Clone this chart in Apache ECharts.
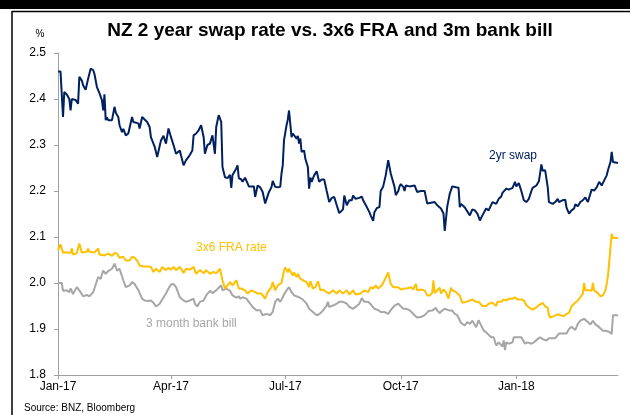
<!DOCTYPE html>
<html>
<head>
<meta charset="utf-8">
<script src="https://cdn.jsdelivr.net/npm/echarts@6/dist/echarts.min.js"></script>
<style>
html,body{margin:0;padding:0;background:#fff;}
#chart{width:630px;height:415px;}
</style>
</head>
<body>
<div id="chart"></div>
<script>
// x values are days since 1 Jan 2017
const tickDays = [0, 90, 181, 273, 365];
const tickLabels = ['Jan-17', 'Apr-17', 'Jul-17', 'Oct-17', 'Jan-18'];
const lastDay = 446;

const swap2yr = [
[0,2.46],[2,2.46],[4,2.361],[5,2.415],[7,2.41],[9,2.40],[10,2.375],[11,2.40],[14,2.398],[16,2.39],
[17,2.448],[19,2.44],[20,2.43],[22,2.42],[24,2.444],[26,2.466],[28,2.463],[29,2.455],[31,2.426],[33,2.413],
[35,2.397],[36,2.375],[37,2.41],[38,2.354],[39,2.36],[40,2.354],[43,2.354],[45,2.383],[46,2.37],[48,2.361],
[49,2.343],[51,2.328],[52,2.335],[54,2.321],[56,2.325],[59,2.361],[60,2.35],[64,2.347],[65,2.336],[67,2.361],
[68,2.357],[71,2.35],[73,2.339],[74,2.317],[77,2.296],[79,2.274],[82,2.31],[84,2.32],[86,2.303],[87,2.32],
[88,2.336],[90,2.317],[92,2.30],[94,2.281],[97,2.288],[98,2.277],[100,2.256],[102,2.267],[104,2.274],[107,2.288],
[108,2.321],[110,2.325],[112,2.332],[114,2.343],[116,2.317],[117,2.281],[119,2.30],[121,2.303],[123,2.321],[125,2.281],
[126,2.339],[128,2.365],[130,2.35],[131,2.252],[133,2.23],[135,2.228],[137,2.235],[138,2.207],[139,2.235],[142,2.249],
[143,2.256],[144,2.228],[145,2.227],[146,2.225],[147,2.22],[149,2.229],[150,2.227],[152,2.21],[154,2.21],[156,2.21],
[157,2.187],[159,2.212],[161,2.208],[163,2.198],[165,2.173],[166,2.172],[168,2.198],[170,2.208],[171,2.222],[173,2.209],
[175,2.208],[177,2.209],[178,2.238],[179,2.256],[180,2.31],[182,2.343],[183,2.355],[184,2.375],[186,2.317],[187,2.325],
[188,2.327],[190,2.314],[191,2.32],[192,2.303],[193,2.314],[194,2.285],[196,2.288],[197,2.27],[199,2.252],[200,2.205],
[201,2.229],[202,2.22],[204,2.234],[206,2.243],[208,2.22],[210,2.225],[212,2.225],[214,2.20],[215,2.203],[216,2.176],
[218,2.185],[220,2.187],[222,2.169],[224,2.152],[227,2.16],[228,2.19],[230,2.169],[232,2.18],[234,2.18],[235,2.19],
[237,2.183],[240,2.185],[242,2.188],[243,2.18],[245,2.17],[246,2.167],[248,2.154],[249,2.147],[251,2.135],[252,2.154],
[254,2.163],[256,2.165],[257,2.20],[259,2.21],[261,2.234],[263,2.267],[265,2.238],[268,2.209],[269,2.191],[271,2.20],
[272,2.21],[273,2.215],[275,2.209],[276,2.20],[277,2.212],[280,2.21],[284,2.212],[286,2.198],[289,2.2],[292,2.2],
[294,2.173],[296,2.174],[300,2.176],[302,2.169],[305,2.162],[307,2.151],[308,2.113],[310,2.166],[312,2.194],[314,2.21],
[317,2.208],[319,2.207],[320,2.165],[321,2.172],[324,2.164],[325,2.167],[328,2.147],[330,2.16],[332,2.158],[334,2.151],
[336,2.136],[338,2.147],[341,2.162],[343,2.158],[346,2.176],[347,2.18],[349,2.172],[351,2.183],[353,2.188],[354,2.196],
[357,2.205],[359,2.203],[362,2.207],[364,2.22],[365,2.21],[367,2.217],[369,2.20],[371,2.18],[373,2.176],[375,2.183],
[377,2.20],[378,2.207],[381,2.212],[383,2.221],[384,2.223],[385,2.258],[386,2.244],[388,2.245],[390,2.209],[391,2.176],
[394,2.172],[396,2.176],[398,2.183],[399,2.176],[402,2.18],[404,2.181],[405,2.164],[407,2.151],[409,2.158],[411,2.162],
[412,2.171],[414,2.167],[416,2.176],[418,2.18],[420,2.186],[422,2.176],[423,2.18],[425,2.203],[427,2.201],[429,2.208],
[431,2.22],[433,2.212],[435,2.223],[437,2.234],[438,2.245],[440,2.263],[441,2.285],[442,2.263],[443,2.263],[446,2.261]
];

const fra3x6 = [
[0,2.071],[2,2.084],[4,2.066],[7,2.067],[10,2.065],[11,2.075],[12,2.062],[15,2.065],[17,2.086],[19,2.066],
[23,2.068],[24,2.075],[25,2.068],[29,2.066],[32,2.075],[33,2.062],[37,2.06],[40,2.064],[43,2.059],[45,2.065],
[47,2.064],[49,2.055],[52,2.057],[54,2.049],[57,2.049],[59,2.057],[61,2.055],[63,2.049],[65,2.038],[68,2.036],
[72,2.036],[74,2.035],[76,2.024],[78,2.031],[81,2.024],[83,2.035],[86,2.028],[88,2.033],[90,2.029],[92,2.035],
[94,2.028],[97,2.035],[100,2.022],[102,2.031],[105,2.029],[108,2.035],[110,2.02],[113,2.028],[116,2.021],[118,2.028],
[121,2.02],[124,2.024],[126,2.021],[129,2.031],[130,2.035],[131,2.006],[133,1.988],[135,1.995],[137,2.002],[139,1.995],
[142,2.006],[144,1.988],[146,1.988],[149,1.984],[151,1.977],[154,1.984],[157,1.98],[159,1.977],[162,1.977],[165,1.966],
[167,1.98],[170,1.991],[171,2.002],[173,1.984],[175,1.995],[178,2.0],[180,2.027],[181,2.034],[183,2.023],[184,2.031],
[187,2.016],[188,2.023],[190,2.013],[191,2.02],[193,2.009],[195,2.006],[198,2.002],[200,1.991],[201,2.004],[203,1.988],
[205,1.991],[207,2.004],[209,1.984],[211,1.986],[214,1.98],[216,1.977],[219,1.984],[222,1.977],[224,1.984],[227,1.977],
[230,1.984],[232,1.975],[235,1.984],[237,1.975],[241,1.977],[244,1.984],[247,1.98],[249,1.991],[251,1.988],[253,1.995],
[255,1.988],[258,1.995],[260,2.006],[262,2.017],[263,2.023],[265,1.998],[267,1.991],[271,1.991],[273,1.986],[276,1.988],
[278,1.988],[281,1.991],[283,1.986],[285,1.998],[286,1.984],[289,1.986],[292,1.984],[294,1.973],[296,1.973],[298,1.978],
[299,2.006],[300,1.978],[302,1.984],[304,1.99],[305,1.977],[307,1.986],[309,1.98],[311,1.966],[313,1.99],[314,1.984],
[317,1.98],[320,1.973],[321,1.969],[322,1.957],[325,1.959],[328,1.962],[330,1.964],[333,1.959],[335,1.959],[338,1.95],
[341,1.95],[343,1.955],[346,1.957],[349,1.95],[350,1.959],[353,1.959],[355,1.964],[357,1.962],[359,1.966],[362,1.966],
[364,1.969],[366,1.964],[369,1.964],[371,1.962],[373,1.952],[375,1.947],[378,1.942],[381,1.947],[383,1.952],[386,1.957],
[388,1.949],[390,1.946],[391,1.93],[392,1.925],[395,1.928],[398,1.932],[400,1.93],[403,1.928],[405,1.933],[407,1.935],
[409,1.949],[411,1.955],[414,1.962],[416,1.969],[418,1.977],[419,2.0],[420,1.984],[423,1.984],[425,1.983],[426,2.0],
[427,1.984],[430,1.978],[432,1.971],[434,1.973],[436,1.984],[437,1.998],[438,2.015],[439,2.046],[440,2.042],[441,2.107],
[442,2.098],[446,2.098]
];

const bill3m = [
[0,2.0],[3,2.0],[4,1.983],[7,1.984],[9,1.98],[10,1.988],[12,1.976],[15,1.991],[17,1.984],[20,1.971],
[23,1.974],[25,1.971],[28,1.98],[29,1.98],[32,2.013],[34,2.009],[36,2.027],[38,2.02],[40,2.026],[43,2.031],
[45,2.042],[47,2.027],[49,2.031],[52,2.006],[54,1.991],[57,1.995],[59,2.002],[61,1.998],[64,1.984],[67,1.966],
[69,1.962],[72,1.961],[74,1.962],[76,1.957],[78,1.949],[81,1.955],[83,1.964],[86,1.977],[88,1.988],[90,1.997],
[92,1.998],[94,1.991],[95,1.984],[97,1.969],[100,1.962],[102,1.959],[105,1.962],[108,1.966],[109,1.955],[111,1.949],
[113,1.959],[116,1.962],[118,1.973],[121,1.983],[123,1.978],[126,1.984],[130,1.995],[131,1.984],[134,1.988],[137,1.983],
[139,1.973],[142,1.968],[144,1.971],[145,1.966],[147,1.969],[150,1.966],[153,1.955],[155,1.948],[158,1.941],[161,1.941],
[163,1.93],[166,1.933],[169,1.93],[171,1.937],[173,1.959],[175,1.966],[177,1.959],[179,1.969],[180,1.975],[182,1.984],
[184,1.991],[186,1.98],[188,1.973],[192,1.969],[195,1.964],[198,1.955],[200,1.944],[203,1.937],[206,1.93],[208,1.932],
[210,1.937],[212,1.944],[214,1.951],[215,1.959],[216,1.948],[219,1.951],[222,1.955],[224,1.959],[227,1.959],[230,1.955],
[232,1.948],[235,1.944],[237,1.948],[240,1.955],[242,1.967],[244,1.959],[247,1.959],[249,1.954],[252,1.944],[255,1.941],
[257,1.937],[260,1.937],[263,1.933],[265,1.941],[268,1.951],[271,1.955],[272,1.959],[275,1.944],[277,1.944],[280,1.941],
[281,1.944],[284,1.93],[286,1.925],[289,1.926],[292,1.93],[295,1.939],[296,1.941],[298,1.94],[301,1.946],[302,1.94],
[304,1.935],[306,1.94],[308,1.944],[312,1.94],[314,1.94],[316,1.933],[318,1.93],[321,1.913],[324,1.908],[326,1.915],
[328,1.911],[330,1.918],[333,1.904],[335,1.919],[337,1.908],[339,1.897],[342,1.89],[345,1.882],[347,1.882],[349,1.864],
[351,1.871],[354,1.862],[355,1.875],[356,1.854],[357,1.871],[359,1.868],[362,1.871],[363,1.882],[366,1.882],[369,1.882],
[370,1.883],[372,1.868],[374,1.871],[377,1.868],[379,1.871],[382,1.878],[384,1.882],[386,1.878],[389,1.875],[391,1.88],
[394,1.88],[396,1.88],[399,1.89],[402,1.89],[405,1.89],[407,1.9],[409,1.905],[410,1.908],[412,1.898],[414,1.911],
[416,1.918],[419,1.922],[420,1.924],[422,1.915],[424,1.91],[426,1.918],[428,1.91],[431,1.904],[434,1.896],[436,1.896],
[439,1.894],[441,1.889],[442,1.93],[446,1.93]
];

const FONT = '"Liberation Sans", Arial, sans-serif';
const chart = echarts.init(document.getElementById('chart'), null, {renderer: 'canvas'});

function lineSeries(name, data, color, z) {
  return {
    name: name, type: 'line', data: data, showSymbol: false, symbol: 'none',
    lineStyle: {color: color, width: 2}, itemStyle: {color: color},
    z: z, animation: false
  };
}

chart.setOption({
  animation: false,
  backgroundColor: '#ffffff',
  grid: {left: 58, right: 12, top: 53, bottom: 40, containLabel: false},
  xAxis: {
    type: 'value', min: 0, max: lastDay,
    axisLine: {show: true, lineStyle: {color: '#a0a0a0', width: 1}},
    axisTick: {show: true, length: 4, customValues: tickDays, lineStyle: {color: '#a0a0a0'}},
    axisLabel: {
      customValues: tickDays, margin: 6, color: '#000', fontSize: 12, fontFamily: FONT,
      formatter: function (v) { const i = tickDays.indexOf(v); return i >= 0 ? tickLabels[i] : ''; }
    },
    splitLine: {show: false}
  },
  yAxis: {
    type: 'value', min: 1.8, max: 2.5, interval: 0.1,
    axisLine: {show: true, lineStyle: {color: '#a0a0a0', width: 1}},
    axisTick: {show: true, length: 4, lineStyle: {color: '#a0a0a0'}},
    axisLabel: {margin: 12, color: '#000', fontSize: 12, fontFamily: FONT,
      formatter: function (v) { return v.toFixed(1); }},
    splitLine: {show: false}
  },
  series: [
    lineSeries('3 month bank bill', bill3m, '#a6a6a6', 2),
    lineSeries('3x6 FRA rate', fra3x6, '#ffc000', 3),
    lineSeries('2yr swap', swap2yr, '#002060', 4)
  ],
  graphic: [
    {type: 'rect', shape: {x: 0, y: 0, width: 630, height: 9}, style: {fill: '#000'}, silent: true},
    {type: 'line', shape: {x1: 12, y1: 11.5, x2: 630, y2: 11.5}, style: {stroke: '#000', lineWidth: 1.5}, silent: true},
    {type: 'line', shape: {x1: 12, y1: 11, x2: 12, y2: 415}, style: {stroke: '#000', lineWidth: 1.5}, silent: true},
    {type: 'text', x: 330, y: 31, style: {text: 'NZ 2 year swap rate vs. 3x6 FRA and 3m bank bill', fill: '#000',
      font: 'bold 19px ' + FONT, textAlign: 'center', textVerticalAlign: 'middle'}},
    {type: 'text', x: 40, y: 34, style: {text: '%', fill: '#000', font: '10px ' + FONT, textAlign: 'center', textVerticalAlign: 'middle'}},
    {type: 'text', x: 24, y: 408, style: {text: 'Source: BNZ, Bloomberg', fill: '#000', font: '10px ' + FONT, textAlign: 'left', textVerticalAlign: 'middle'}},
    {type: 'text', x: 489, y: 156, style: {text: '2yr swap', fill: '#002060', font: '12px ' + FONT, textAlign: 'left', textVerticalAlign: 'middle'}},
    {type: 'text', x: 196, y: 248, style: {text: '3x6 FRA rate', fill: '#ffc000', font: '12px ' + FONT, textAlign: 'left', textVerticalAlign: 'middle'}},
    {type: 'text', x: 146, y: 324, style: {text: '3 month bank bill', fill: '#a6a6a6', font: '12px ' + FONT, textAlign: 'left', textVerticalAlign: 'middle'}}
  ]
});
</script>
</body>
</html>
